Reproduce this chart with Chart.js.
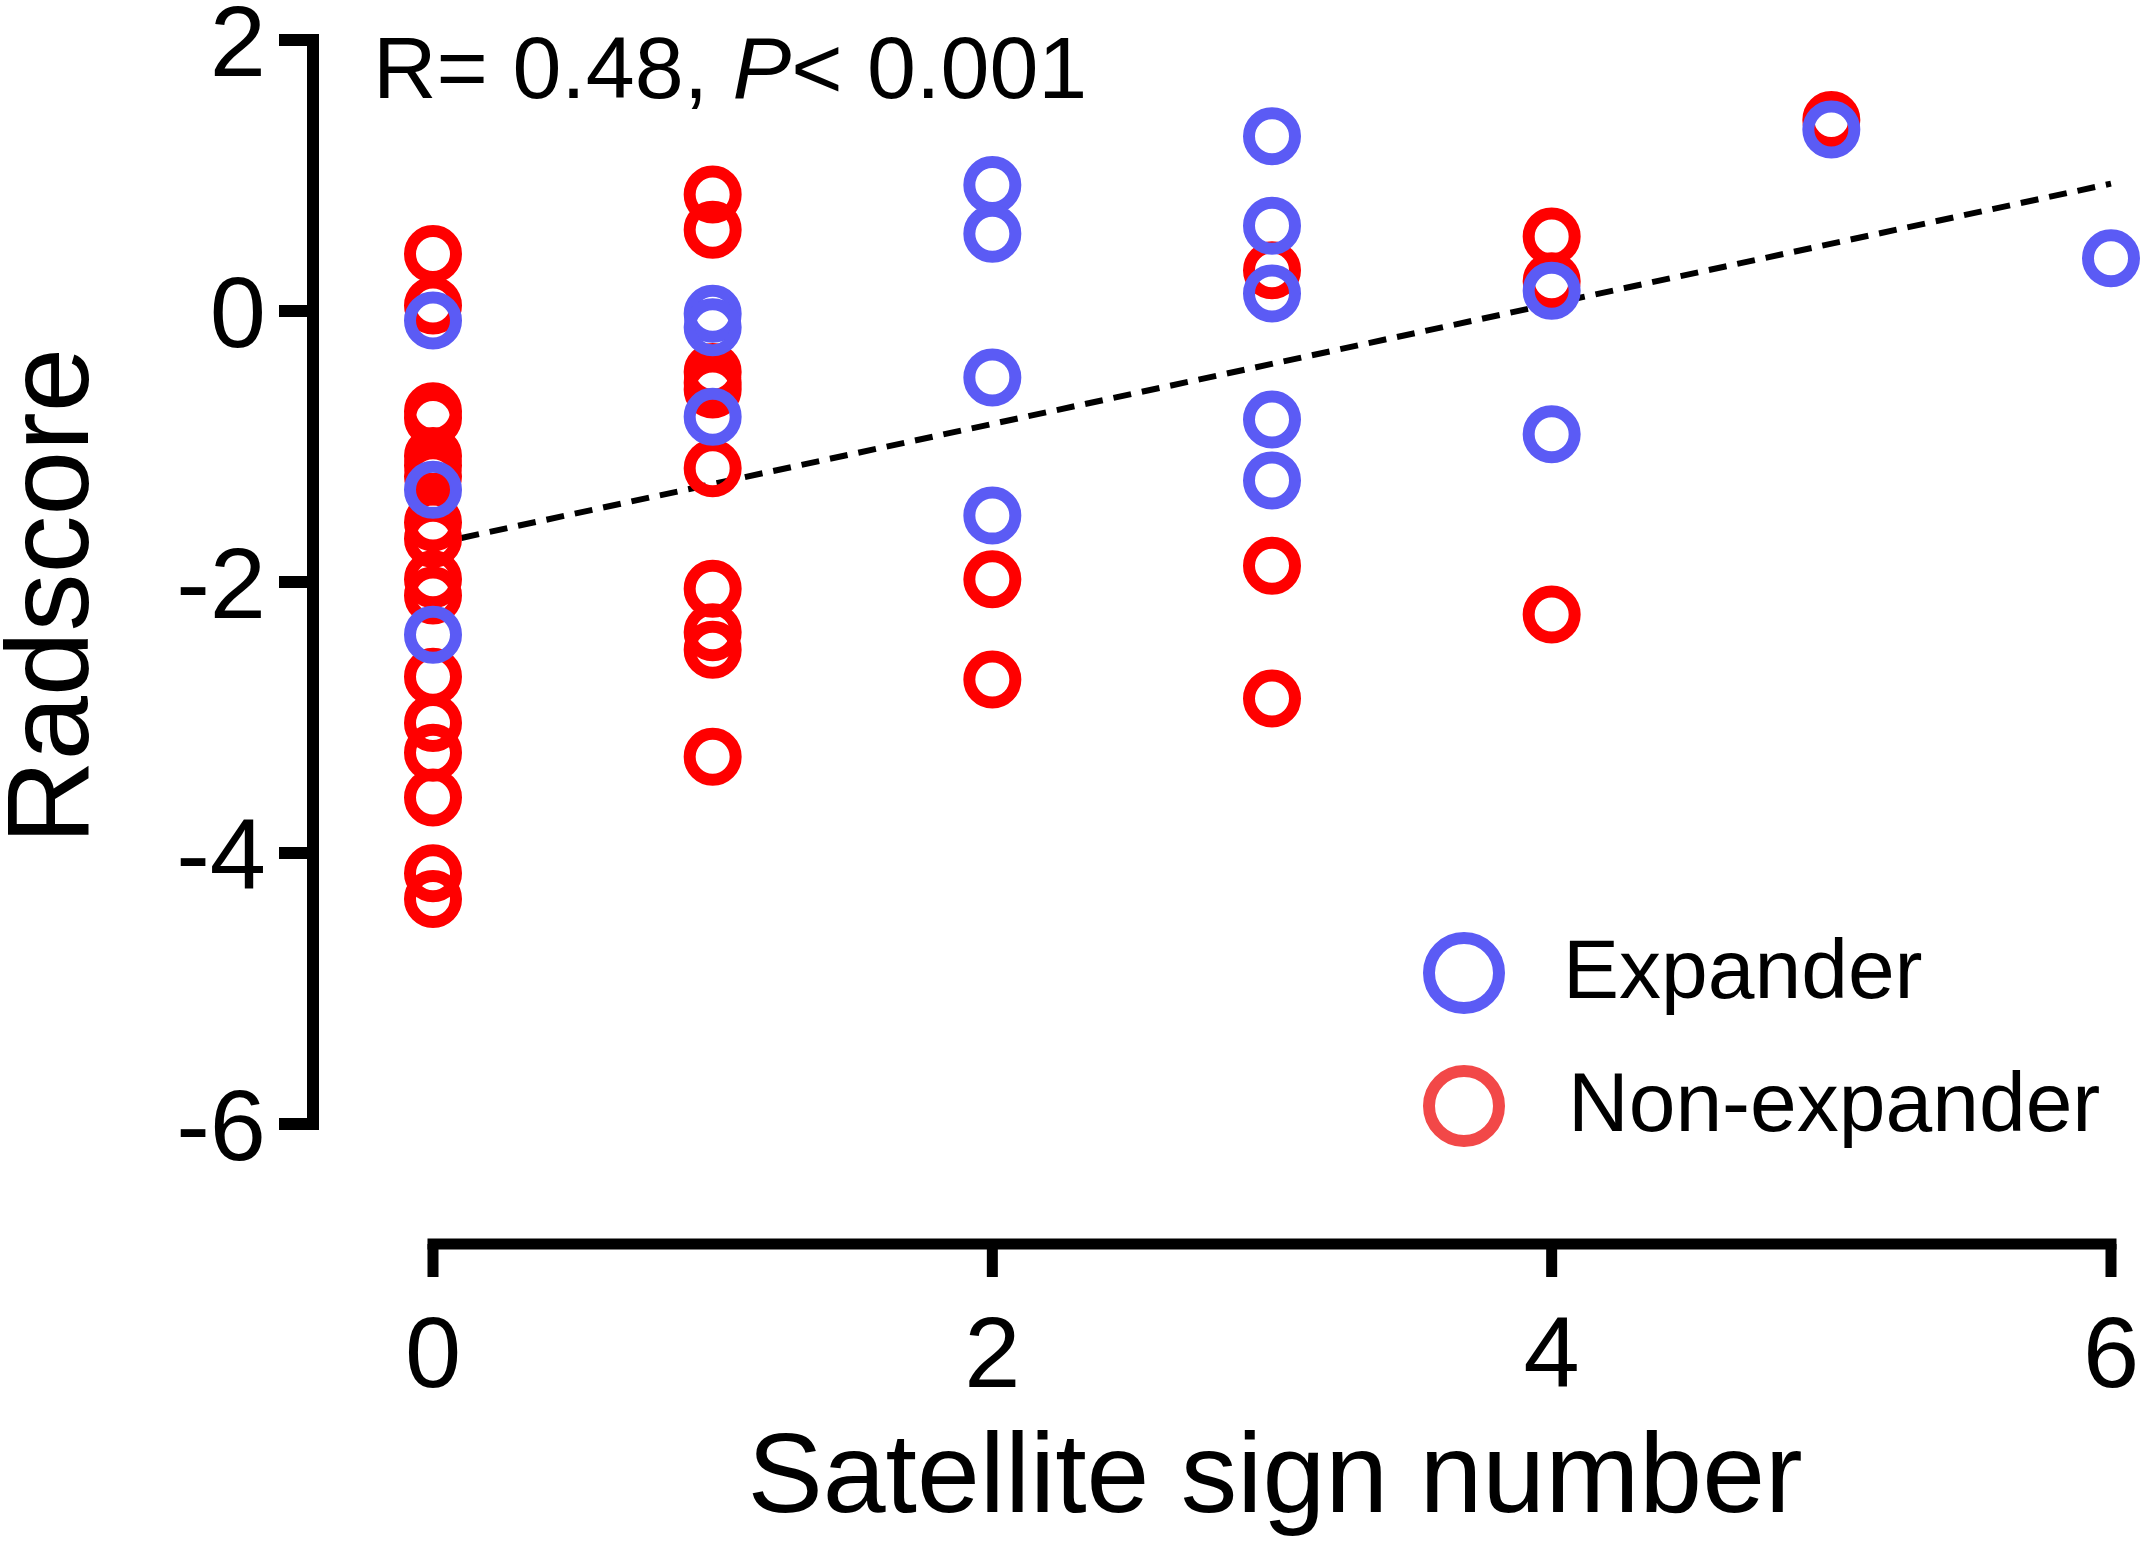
<!DOCTYPE html>
<html>
<head>
<meta charset="utf-8">
<script src="https://cdn.jsdelivr.net/npm/chart.js@4"></script>
<style>
  html, body { margin: 0; padding: 0; background: #fff; }
  canvas { display: block; }
</style>
</head>
<body>
<canvas id="chart" width="2149" height="1549"></canvas>
<script>
// data
const expanderX = [0, 0, 0, 1, 1, 1, 2, 2, 2, 2, 3, 3, 3, 3, 3, 4, 4, 5, 6];
const expanderY = [-0.07, -1.32, -2.39, -0.02, -0.12, -0.78, 0.93, 0.57, -0.49, -1.51,
  1.29, 0.63, 0.13, -0.80, -1.25, 0.15, -0.91, 1.34, 0.39];

const nonExpanderX = [0, 0, 0, 0, 0, 0, 0, 0, 0, 0, 0, 0, 0, 0, 0, 0, 0,
  1, 1, 1, 1, 1, 1, 1, 1, 1, 1, 2, 2, 3, 3, 3, 4, 4, 4, 5];
const nonExpanderY = [0.42, 0.04, -0.74, -0.79, -1.07, -1.14, -1.22, -1.56, -1.68, -1.98,
  -2.10, -2.70, -3.04, -3.26, -3.59, -4.15, -4.34,
  0.86, 0.60, -0.45, -0.53, -0.58, -1.16, -2.05, -2.37, -2.50, -3.29,
  -1.98, -2.72, 0.30, -1.88, -2.86, 0.55, 0.22, -2.24, 1.41];

// regression line end points
const trendX = [0, 6];
const trendY = [-1.72, 0.94];

const xTicks = [0, 2, 4, 6];
const yTicks = [2, 0, -2, -4, -6];

const BLUE = "#5B5BF5";
const RED = "#FF0000";
const FONT = "'Liberation Sans', Arial, sans-serif";

const toPoints = (xs, ys) => xs.map((x, i) => ({ x: x, y: ys[i] }));

// prism style offset axes, labels and legend
const decorations = {
  id: "decorations",
  beforeDatasetsDraw(chart) {
    const { ctx, chartArea, scales } = chart;
    const xs = scales.x, ys = scales.y;
    const axisX = chartArea.left - 120;
    const axisY = chartArea.bottom + 120;
    ctx.save();
    ctx.strokeStyle = "#000";
    ctx.lineCap = "butt";

    // y axis
    ctx.lineWidth = 12;
    ctx.beginPath();
    ctx.moveTo(axisX, ys.getPixelForValue(2) - 6);
    ctx.lineTo(axisX, ys.getPixelForValue(-6) + 6);
    ctx.stroke();
    yTicks.forEach((v) => {
      const py = ys.getPixelForValue(v);
      ctx.beginPath();
      ctx.moveTo(axisX - 34, py);
      ctx.lineTo(axisX, py);
      ctx.stroke();
    });

    // x axis
    ctx.lineWidth = 11;
    ctx.beginPath();
    ctx.moveTo(xs.getPixelForValue(0) - 5.5, axisY);
    ctx.lineTo(xs.getPixelForValue(6) + 5.5, axisY);
    ctx.stroke();
    xTicks.forEach((v) => {
      const px = xs.getPixelForValue(v);
      ctx.beginPath();
      ctx.moveTo(px, axisY);
      ctx.lineTo(px, axisY + 33);
      ctx.stroke();
    });
    ctx.restore();
  },
  afterDraw(chart) {
    const { ctx, chartArea, scales } = chart;
    const xs = scales.x, ys = scales.y;
    ctx.save();
    ctx.fillStyle = "#000";

    // tick labels
    ctx.font = "101px " + FONT;
    ctx.textAlign = "right";
    ctx.textBaseline = "alphabetic";
    yTicks.forEach((v) => {
      ctx.fillText(String(v), chartArea.left - 167, ys.getPixelForValue(v) + 36);
    });
    ctx.textAlign = "center";
    xTicks.forEach((v) => {
      ctx.fillText(String(v), xs.getPixelForValue(v), 1387);
    });

    // axis titles
    ctx.font = "113px " + FONT;
    ctx.fillText("Satellite sign number", (xs.getPixelForValue(0) + xs.getPixelForValue(6)) / 2 + 3, 1512);
    ctx.save();
    ctx.translate(88, 596);
    ctx.rotate(-Math.PI / 2);
    ctx.font = "116px " + FONT;
    ctx.fillText("Radscore", 0, 0);
    ctx.restore();

    // statistics
    ctx.textAlign = "left";
    let tx = 373;
    const parts = [["R= 0.48, ", ""], ["P", "italic "], ["< 0.001", ""]];
    parts.forEach(([t, style]) => {
      ctx.font = style + "88px " + FONT;
      ctx.fillText(t, tx, 98);
      tx += ctx.measureText(t).width;
    });

    // legend
    const legend = [["Expander", BLUE, 973, 1563], ["Non-expander", "#F24848", 1106, 1568]];
    legend.forEach(([label, color, y, textX]) => {
      ctx.strokeStyle = color;
      ctx.lineWidth = 12;
      ctx.beginPath();
      ctx.arc(1464, y, 35, 0, Math.PI * 2);
      ctx.stroke();
      ctx.fillStyle = "#000";
      ctx.font = "84px " + FONT;
      ctx.textBaseline = "middle";
      ctx.fillText(label, textX, y + 2);
    });
    ctx.restore();
  },
};

new Chart(document.getElementById("chart"), {
  type: "scatter",
  data: {
    datasets: [
      {
        label: "Expander",
        data: toPoints(expanderX, expanderY),
        borderColor: BLUE,
        backgroundColor: "rgba(0,0,0,0)",
        pointRadius: 23,
        pointBorderWidth: 12,
        clip: false,
      },
      {
        label: "Non-expander",
        data: toPoints(nonExpanderX, nonExpanderY),
        borderColor: RED,
        backgroundColor: "rgba(0,0,0,0)",
        pointRadius: 23,
        pointBorderWidth: 12,
        clip: false,
      },
      {
        type: "line",
        label: "fit",
        data: toPoints(trendX, trendY),
        borderColor: "#000",
        borderWidth: 6,
        borderDash: [18, 11],
        pointRadius: 0,
        fill: false,
        clip: false,
      },
    ],
  },
  options: {
    responsive: false,
    devicePixelRatio: 1,
    animation: false,
    layout: { padding: { left: 433, right: 38, top: 40, bottom: 425 } },
    scales: {
      x: { type: "linear", min: 0, max: 6, display: false },
      y: { type: "linear", min: -6, max: 2, display: false },
    },
    plugins: {
      legend: { display: false },
      tooltip: { enabled: false },
    },
  },
  plugins: [decorations],
});
</script>
</body>
</html>
